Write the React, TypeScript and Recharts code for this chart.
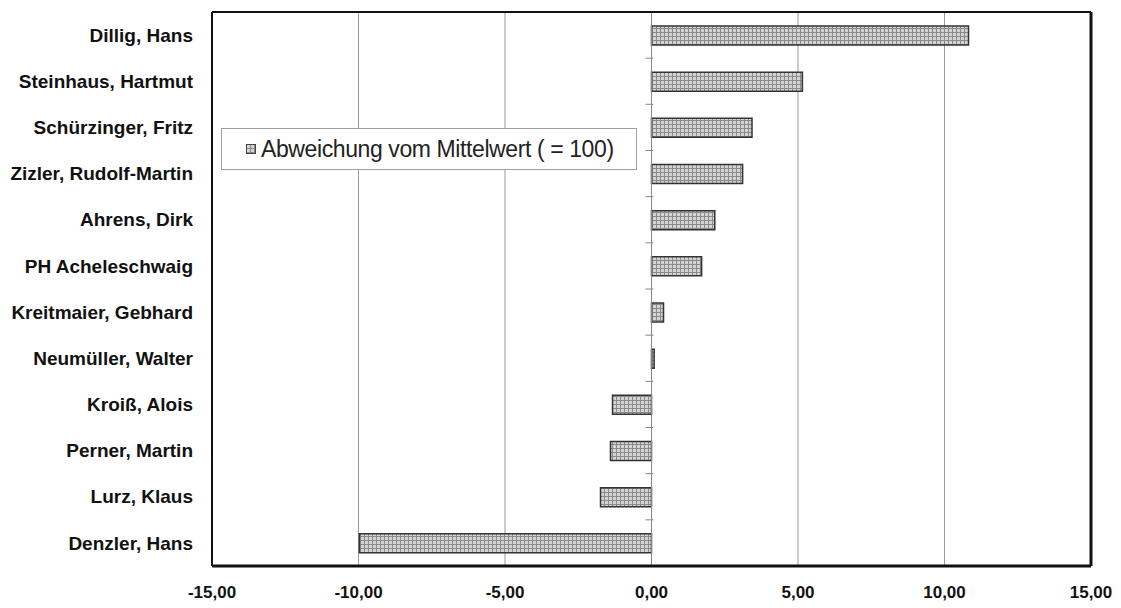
// Horizontal deviation bar chart: each person's deviation from the mean (= 100).
import React from "react";
import {
  BarChart,
  Bar,
  XAxis,
  YAxis,
  CartesianGrid,
  ReferenceLine,
  Legend,
} from "recharts";

const names = [
  "Dillig, Hans",
  "Steinhaus, Hartmut",
  "Schürzinger, Fritz",
  "Zizler, Rudolf-Martin",
  "Ahrens, Dirk",
  "PH Acheleschwaig",
  "Kreitmaier, Gebhard",
  "Neumüller, Walter",
  "Kroiß, Alois",
  "Perner, Martin",
  "Lurz, Klaus",
  "Denzler, Hans",
];

const deviations = [10.82, 5.15, 3.43, 3.11, 2.16, 1.71, 0.41, 0.09, -1.33, -1.4, -1.74, -9.97];

const xTicks = [-15, -10, -5, 0, 5, 10, 15];

const seriesName = "Abweichung vom Mittelwert ( = 100)";

const data = names.map((name, i) => ({ name, value: deviations[i] }));

const fmt = (v: number) => v.toFixed(2).replace(".", ",");

const FONT = '"Liberation Sans", Arial, sans-serif';

// zero line with small tick marks at the category boundaries
function ZeroAxis(props: any) {
  const { x1, y1, x2, y2 } = props;
  const step = (y2 - y1) / names.length;
  const marks = [];
  for (let i = 1; i < names.length; i++) {
    const y = y1 + step * i;
    marks.push(<line key={i} x1={x1 - 6} x2={x1 + 2} y1={y} y2={y} stroke="#888" strokeWidth={1} />);
  }
  return (
    <g>
      <line x1={x1} y1={y1} x2={x2} y2={y2} stroke="#888" strokeWidth={1} />
      {marks}
    </g>
  );
}

function LegendBox() {
  return (
    <div
      style={{
        width: 416,
        height: 42,
        boxSizing: "border-box",
        border: "1px solid #a0a0a0",
        background: "#fff",
        display: "flex",
        alignItems: "center",
        paddingLeft: 24,
        fontFamily: FONT,
        fontSize: 23,
        color: "#222",
        letterSpacing: -0.4,
        whiteSpace: "nowrap",
      }}
    >
      <svg width={10} height={10} style={{ marginRight: 5 }}>
        <rect x={0.5} y={0.5} width={9} height={9} fill="url(#hatch)" stroke="#444" />
      </svg>
      {seriesName}
    </div>
  );
}

export default function App() {
  return (
    <div style={{ position: "absolute", left: 0, top: 0, background: "#fff" }}>
      <BarChart
        width={1121}
        height={608}
        data={data}
        layout="vertical"
        margin={{ top: 11, right: 29, bottom: 0, left: 0 }}
      >
        <defs>
          <pattern id="hatch" width={4} height={4} patternUnits="userSpaceOnUse">
            <rect width={4} height={4} fill="#d4d4d4" />
            <path d="M0 0.5 H4 M0.5 0 V4" stroke="#8a8a8a" strokeWidth={1} />
          </pattern>
        </defs>
        <CartesianGrid horizontal={false} stroke="#9a9a9a" />
        <XAxis
          type="number"
          domain={[-15, 15]}
          ticks={xTicks}
          tickFormatter={fmt}
          height={42}
          axisLine={{ stroke: "#111", strokeWidth: 3 }}
          tickLine={false}
          tick={{ fontSize: 17, fontWeight: "bold", fill: "#111", fontFamily: FONT }}
          tickMargin={14}
        />
        <XAxis
          xAxisId="top"
          orientation="top"
          type="number"
          domain={[-15, 15]}
          height={1}
          tick={false}
          tickLine={false}
          axisLine={{ stroke: "#111", strokeWidth: 2 }}
        />
        <YAxis
          type="category"
          dataKey="name"
          width={212}
          axisLine={{ stroke: "#111", strokeWidth: 2 }}
          tickLine={false}
          tick={{ fontSize: 19, fontWeight: "bold", fill: "#111", fontFamily: FONT }}
          tickMargin={13}
          interval={0}
        />
        <YAxis
          yAxisId="right"
          orientation="right"
          type="category"
          dataKey="name"
          width={1}
          tick={false}
          tickLine={false}
          axisLine={{ stroke: "#111", strokeWidth: 3 }}
        />
        <ReferenceLine x={0} shape={ZeroAxis} />
        <Legend
          layout="horizontal"
          verticalAlign="middle"
          align="center"
          content={() => <LegendBox />}
          wrapperStyle={{ position: "absolute", left: 221, top: 128, width: 416 }}
        />
        <Bar
          dataKey="value"
          name={seriesName}
          barSize={19}
          fill="url(#hatch)"
          stroke="#333"
          strokeWidth={1.5}
          isAnimationActive={false}
        />
      </BarChart>
    </div>
  );
}
